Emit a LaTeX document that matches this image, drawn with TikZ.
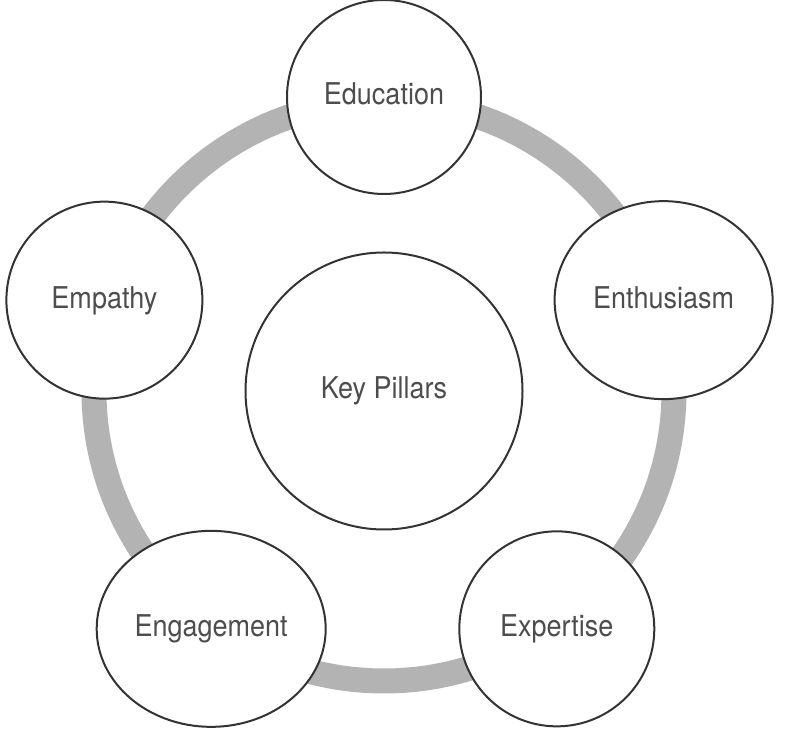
\documentclass[tikz,border=0pt]{standalone}
\usepackage{fontspec}
\setmainfont{TeX Gyre Heros}[FakeStretch=0.9]
\usetikzlibrary{shapes.geometric,calc}
\definecolor{ringgray}{HTML}{B3B3B3}
\definecolor{edgegray}{HTML}{333333}
\definecolor{textgray}{HTML}{4D4D4D}
\begin{document}
\begin{tikzpicture}[x=1pt,y=1pt,
  pillar/.style={ellipse,draw=edgegray,line width=2pt,fill=white,inner sep=0pt,
    text=textgray,font=\fontsize{30}{34}\selectfont,text height=22pt,text depth=6pt}]
\useasboundingbox (0,0) rectangle (788,736);
\coordinate (c) at (384,345);
\draw[ringgray,line width=25pt] (c) circle[radius=290];
\node[pillar,minimum width=277pt,minimum height=277pt] (key) at (c) {Key Pillars};
\node[pillar,minimum width=194pt,minimum height=194pt] (edu) at ($(c)+(90:294)$) {Education};
\node[pillar,minimum width=218pt,minimum height=198pt] (ent) at ($(c)+(18:294)$) {Enthusiasm};
\node[pillar,minimum width=195pt,minimum height=195pt] (exp) at ($(c)+(-54:294)$) {Expertise};
\node[pillar,minimum width=229pt,minimum height=196pt] (eng) at ($(c)+(-126:294)$) {Engagement};
\node[pillar,minimum width=196pt,minimum height=197pt] (emp) at ($(c)+(162:294)$) {Empathy};
\end{tikzpicture}
\end{document}
